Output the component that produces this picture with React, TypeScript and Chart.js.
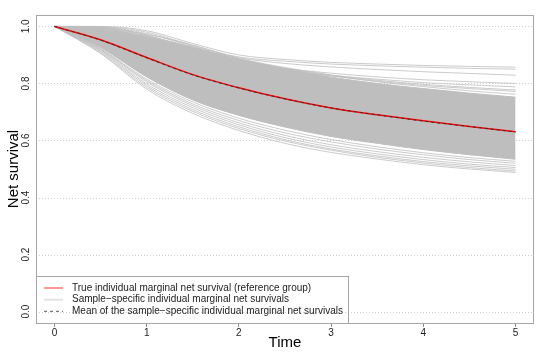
import React, { useEffect, useRef } from "react";
import { Chart, registerables } from "chart.js";

Chart.register(...registerables);

// ---- data ----
const timePoints = [0, 0.5, 1, 1.5, 2, 2.5, 3, 3.5, 4, 4.5, 5];
const xTicks = [0, 1, 2, 3, 4, 5];
const yTicks = [0, 0.2, 0.4, 0.6, 0.8, 1.0];
const yTickLabels = ["0.0", "0.2", "0.4", "0.6", "0.8", "1.0"];

const trueSurvival = [1.0, 0.953, 0.891, 0.831, 0.785, 0.746, 0.714, 0.69, 0.669, 0.649, 0.631];
const meanSurvival = [1.0, 0.952, 0.89, 0.83, 0.784, 0.746, 0.714, 0.69, 0.668, 0.649, 0.63];

// dense core of the sample-specific curves
const bandUpper = [1.0, 0.993, 0.963, 0.926, 0.886, 0.852, 0.822, 0.8, 0.782, 0.766, 0.752];
const bandLower = [1.0, 0.926, 0.823, 0.742, 0.688, 0.647, 0.614, 0.59, 0.568, 0.55, 0.534];

// individual sample-specific curves at the edges of the band
const sampleCurves: number[][] = [
  [1.0, 1.0, 0.985, 0.94, 0.9, 0.884, 0.874, 0.868, 0.863, 0.86, 0.857],
  [1.0, 0.999, 0.98, 0.933, 0.893, 0.878, 0.868, 0.862, 0.857, 0.853, 0.85],
  [1.0, 0.998, 0.975, 0.93, 0.89, 0.87, 0.858, 0.849, 0.841, 0.835, 0.829],
  [1.0, 0.997, 0.97, 0.92, 0.875, 0.852, 0.836, 0.823, 0.813, 0.806, 0.8],
  [1.0, 0.996, 0.968, 0.915, 0.87, 0.845, 0.828, 0.815, 0.803, 0.795, 0.788],
  [1.0, 0.995, 0.966, 0.928, 0.88, 0.85, 0.826, 0.808, 0.793, 0.782, 0.772],
  [1.0, 0.996, 0.972, 0.935, 0.888, 0.856, 0.83, 0.811, 0.797, 0.786, 0.777],
  [1.0, 0.994, 0.964, 0.926, 0.884, 0.853, 0.828, 0.806, 0.789, 0.774, 0.762],
  [1.0, 0.905, 0.78, 0.695, 0.635, 0.59, 0.558, 0.535, 0.515, 0.5, 0.488],
  [1.0, 0.908, 0.786, 0.702, 0.642, 0.598, 0.566, 0.541, 0.521, 0.505, 0.493],
  [1.0, 0.912, 0.792, 0.708, 0.648, 0.603, 0.57, 0.546, 0.526, 0.511, 0.499],
  [1.0, 0.915, 0.798, 0.715, 0.655, 0.61, 0.577, 0.553, 0.533, 0.517, 0.505],
  [1.0, 0.918, 0.805, 0.722, 0.662, 0.618, 0.585, 0.561, 0.541, 0.525, 0.512],
  [1.0, 0.92, 0.81, 0.728, 0.67, 0.627, 0.595, 0.57, 0.55, 0.533, 0.52],
  [1.0, 0.922, 0.815, 0.735, 0.678, 0.636, 0.603, 0.578, 0.557, 0.54, 0.527],
];

const legendLabels = [
  "True individual marginal net survival (reference group)",
  "Sample\u2212specific individual marginal net survivals",
  "Mean of the sample\u2212specific individual marginal net survivals",
];

const xTitle = "Time";
const yTitle = "Net survival";

const FONT = "'Liberation Sans', Arial, Helvetica, sans-serif";
const GRAY = "#bebebe";

const toPoints = (ys: number[]) => ys.map((y, i) => ({ x: timePoints[i], y }));

export default function App() {
  const ref = useRef<HTMLCanvasElement | null>(null);

  useEffect(() => {
    const canvas = ref.current;
    if (!canvas) return;

    const datasets: any[] = [];
    datasets.push({
      label: "mean",
      data: toPoints(meanSurvival),
      borderColor: "#333333",
      borderWidth: 1,
      borderDash: [3, 3],
      order: 0,
    });
    datasets.push({
      label: "true",
      data: toPoints(trueSurvival),
      borderColor: "#ff0000",
      borderWidth: 1.5,
      order: 1,
    });
    sampleCurves.forEach((c, k) => {
      datasets.push({
        label: "sample" + k,
        data: toPoints(c),
        borderColor: "rgba(190,190,190,0.8)",
        borderWidth: 1,
        order: 2,
      });
    });
    const lowerIndex = datasets.length + 1;
    datasets.push({
      label: "bandUpper",
      data: toPoints(bandUpper),
      borderColor: GRAY,
      borderWidth: 1,
      backgroundColor: GRAY,
      fill: lowerIndex,
      order: 3,
    });
    datasets.push({
      label: "bandLower",
      data: toPoints(bandLower),
      borderColor: GRAY,
      borderWidth: 1,
      fill: false,
      order: 3,
    });

    const decor = {
      id: "decor",
      beforeDatasetsDraw(chart: any) {
        const { ctx, chartArea } = chart;
        const ys = chart.scales.y;
        ctx.save();
        ctx.strokeStyle = "#cfcfcf";
        ctx.lineWidth = 1;
        ctx.setLineDash([1, 2]);
        yTicks.forEach((v) => {
          const py = Math.round(ys.getPixelForValue(v)) + 0.5;
          ctx.beginPath();
          ctx.moveTo(chartArea.left, py);
          ctx.lineTo(chartArea.right, py);
          ctx.stroke();
        });
        ctx.restore();
      },
      afterDraw(chart: any) {
        const { ctx, chartArea } = chart;
        const ys = chart.scales.y;
        ctx.save();
        // box
        ctx.strokeStyle = "#a6a6a6";
        ctx.lineWidth = 1;
        ctx.setLineDash([]);
        ctx.strokeRect(chartArea.left + 0.5, chartArea.top + 0.5, chartArea.right - chartArea.left - 1, chartArea.bottom - chartArea.top);

        // y tick labels (rotated)
        ctx.fillStyle = "#222";
        ctx.font = `10px ${FONT}`;
        ctx.textAlign = "center";
        ctx.textBaseline = "alphabetic";
        yTicks.forEach((v, i) => {
          const py = ys.getPixelForValue(v);
          ctx.save();
          ctx.translate(chartArea.left - 7, py);
          ctx.rotate(-Math.PI / 2);
          ctx.fillText(yTickLabels[i], 0, 0);
          ctx.restore();
        });

        // y title
        ctx.fillStyle = "#000";
        ctx.font = `15px ${FONT}`;
        ctx.save();
        ctx.translate(chartArea.left - 18, (chartArea.top + chartArea.bottom) / 2);
        ctx.rotate(-Math.PI / 2);
        ctx.fillText(yTitle, 0, 0);
        ctx.restore();

        // x title
        ctx.fillText(xTitle, (chartArea.left + chartArea.right) / 2, chartArea.bottom + 24);

        // legend
        const lw = 312;
        const lh = 47;
        const lx = chartArea.left;
        const ly = chartArea.bottom - lh;
        ctx.strokeStyle = "#a6a6a6";
        ctx.lineWidth = 1;
        ctx.strokeRect(lx + 0.5, ly + 0.5, lw, lh);
        const rows = [12, 23.7, 35.3];
        const styles = [
          { c: "rgba(255,0,0,0.4)", w: 2, d: [] as number[] },
          { c: "#e3e3e3", w: 2, d: [] as number[] },
          { c: "#555555", w: 1, d: [3, 3] },
        ];
        ctx.font = `10px ${FONT}`;
        ctx.textAlign = "left";
        ctx.textBaseline = "middle";
        rows.forEach((r, i) => {
          const y = ly + r;
          ctx.strokeStyle = styles[i].c;
          ctx.lineWidth = styles[i].w;
          ctx.setLineDash(styles[i].d);
          ctx.beginPath();
          ctx.moveTo(lx + 8, y);
          ctx.lineTo(lx + 27, y);
          ctx.stroke();
          ctx.fillStyle = "#222";
          ctx.fillText(legendLabels[i], lx + 36, y);
        });
        ctx.restore();
      },
    };

    const chart = new Chart(canvas, {
      type: "line",
      data: { datasets },
      options: {
        animation: false,
        responsive: false,
        devicePixelRatio: 1,
        events: [],
        elements: {
          point: { radius: 0 },
          line: { cubicInterpolationMode: "monotone", fill: false },
        },
        layout: { padding: { left: 36, right: 6, top: 15, bottom: 21 } },
        plugins: {
          legend: { display: false },
          tooltip: { enabled: false },
          title: { display: false },
        },
        scales: {
          x: {
            type: "linear",
            min: -0.2,
            max: 5.2,
            afterBuildTicks: (axis: any) => {
              axis.ticks = xTicks.map((v) => ({ value: v }));
            },
            ticks: {
              color: "#222",
              font: { family: FONT, size: 10 },
              padding: 0,
              maxRotation: 0,
              callback: (v: any) => String(v),
            },
            grid: {
              drawOnChartArea: false,
              drawTicks: true,
              tickLength: 4,
              color: "#8a8a8a",
            },
            border: { display: false },
          },
          y: {
            type: "linear",
            min: -0.04,
            max: 1.04,
            ticks: { display: false },
            grid: { display: false, drawTicks: false },
            border: { display: false },
          },
        },
      } as any,
      plugins: [decor],
    });

    return () => chart.destroy();
  }, []);

  return (
    <div style={{ position: "absolute", left: 0, top: 0, width: 540, height: 360, background: "#fff" }}>
      <canvas ref={ref} width={540} height={360} style={{ width: 540, height: 360 }} />
    </div>
  );
}
